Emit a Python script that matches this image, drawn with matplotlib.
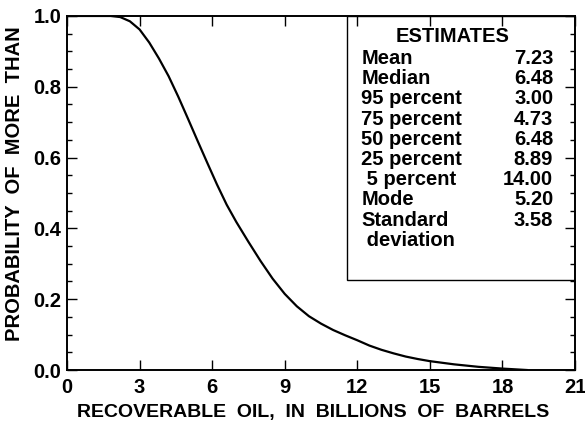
import numpy as np
import matplotlib.pyplot as plt
from matplotlib.patches import Rectangle
from matplotlib.ticker import MultipleLocator

plt.rcParams['font.family'] = ['Liberation Sans', 'DejaVu Sans']

# Exceedance curve: recoverable oil (billions of barrels) vs probability of more than
oil = [0, 1.8, 2.2, 2.6, 3.0, 3.4, 3.8, 4.2, 4.6, 5.0, 5.4, 5.8, 6.2, 6.6,
       7.0, 7.5, 8.0, 8.5, 9.0, 9.5, 10.0, 10.5, 11.0, 11.5, 12.0, 12.5,
       13.0, 13.5, 14.0, 14.5, 15.0, 16.0, 17.0, 18.0, 19.0]
prob = [1.0, 1.0, 0.997, 0.985, 0.962, 0.925, 0.88, 0.83, 0.772, 0.71,
        0.647, 0.585, 0.524, 0.467, 0.418, 0.362, 0.308, 0.258, 0.215, 0.18,
        0.152, 0.131, 0.113, 0.098, 0.084, 0.069, 0.057, 0.047, 0.038,
        0.031, 0.025, 0.016, 0.009, 0.004, 0.0]

est_labels = ["Mean", "Median", "95 percent", "75 percent", "50 percent",
              "25 percent", " 5 percent", "Mode", "Standard", " deviation"]
est_values = ["7.23", "6.48", "3.00", "4.73", "6.48", "8.89", "14.00",
              "5.20", "3.58", ""]

fig = plt.figure(figsize=(5.85, 4.25), dpi=100)
ax = fig.add_axes([0.1145, 0.1294, 0.8685, 0.833])

ax.plot(oil, prob, color='black', lw=1.6, solid_joinstyle='round')

ax.set_xlim(0, 21)
ax.set_ylim(0, 1.0)
ax.xaxis.set_major_locator(MultipleLocator(3))
ax.yaxis.set_major_locator(MultipleLocator(0.2))
ax.yaxis.set_minor_locator(MultipleLocator(0.05))
ax.set_yticklabels([f"{v:.1f}" for v in ax.get_yticks()])

ax.tick_params(which='both', direction='in', top=True, right=True,
               width=1.0, color='black')
ax.tick_params(which='major', length=7, labelsize=14.5, pad=4)
ax.tick_params(axis='x', which='major', pad=6)
ax.tick_params(which='minor', length=3.5)
ax.tick_params(axis='x', which='minor', top=False, bottom=False)
for lab in ax.get_xticklabels() + ax.get_yticklabels():
    lab.set_fontweight('bold')
for sp in ax.spines.values():
    sp.set_linewidth(1.4)

ax.set_xlabel("RECOVERABLE  OIL,  IN  BILLIONS  OF  BARRELS",
              fontsize=14, fontweight='bold')
ax.set_ylabel("PROBABILITY  OF  MORE  THAN", fontsize=14.5, fontweight='bold')
ax.xaxis.set_label_coords(0.484, -0.097)
ax.yaxis.set_label_coords(-0.085, 0.527)

# Estimates table in the upper right corner
ax.add_patch(Rectangle((0.552, 0.254), 0.448, 0.746, transform=ax.transAxes,
                       fill=False, ec='black', lw=1.0, zorder=3))
ax.text(0.758, 0.941, "ESTIMATES", transform=ax.transAxes, ha='center',
        va='center', fontsize=14.5, fontweight='bold')
row_y = 0.880
for lab, val in zip(est_labels, est_values):
    ax.text(0.579, row_y, lab, transform=ax.transAxes, ha='left',
            va='center', fontsize=14.5, fontweight='bold')
    ax.text(0.957, row_y, val, transform=ax.transAxes, ha='right',
            va='center', fontsize=14.5, fontweight='bold')
    row_y -= 0.0571

fig.savefig("out.png", dpi=100)
